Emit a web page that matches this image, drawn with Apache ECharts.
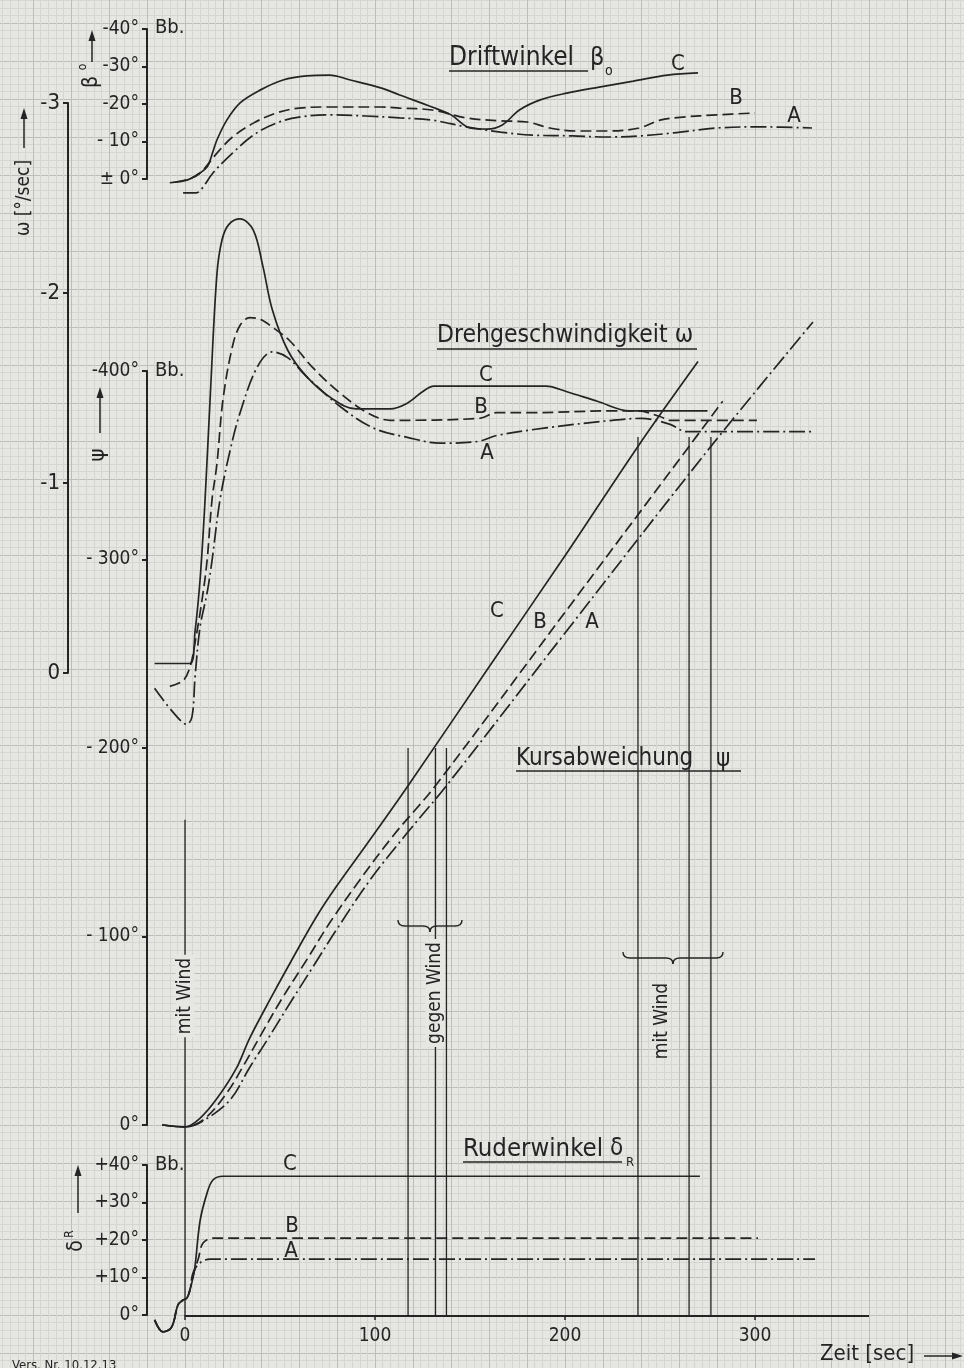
<!DOCTYPE html>
<html>
<head>
<meta charset="utf-8">
<script src="https://cdn.jsdelivr.net/npm/echarts@6.0.0/dist/echarts.min.js"></script>
<style>
html, body { margin: 0; padding: 0; background: #e6e6e3; }
#main { width: 964px; height: 1368px; }
</style>
</head>
<body>
<div id="main"></div>
<script>
// ---- data (time in sec) ----
// Driftwinkel beta_0 [deg]
const betaC = [[-8,1],[1,0.3],[6,-1],[11.6,-3.2],[14.5,-7],[16.8,-10.4],[22,-15.7],[29,-20.3],[39.5,-23.7],[51.6,-26.4],[64,-27.5],[76,-27.7],[87,-26.4],[103,-24.3],[113,-22.4],[130,-19.2],[140,-17.1],[150,-13.6],[159,-13.3],[167,-14.4],[176,-18.4],[187,-21.1],[201,-22.9],[218,-24.5],[236,-26.1],[254,-27.7],[270,-28.3]];
const betaB = [[-5,0.8],[2,0],[8,-1.6],[16.8,-6.9],[25,-11.2],[36,-14.9],[48,-17.6],[60,-18.9],[76,-19.2],[103,-19.2],[113,-18.9],[130,-18.4],[148,-16.3],[166,-15.5],[180,-15.2],[192,-13.6],[206,-12.8],[222,-12.8],[239,-13.6],[250,-15.7],[262,-16.5],[280,-17.1],[300,-17.6]];
const betaA = [[-1,3.7],[6,3.7],[9,2.5],[14.7,-1.6],[25,-6.9],[36,-11.7],[48,-14.9],[60,-16.5],[76,-17.1],[95,-16.8],[113,-16.3],[130,-15.7],[148,-13.9],[166,-12.5],[183,-11.7],[204,-11.5],[222,-11.2],[240,-11.5],[257,-12.3],[280,-13.6],[303,-13.9],[330,-13.6]];

// Drehgeschwindigkeit omega [deg/sec]
const omegaC = [[-16,-0.05],[2.6,-0.05],[5.3,-0.22],[8,-0.5],[10.5,-0.9],[13.5,-1.5],[16.8,-2.1],[19.5,-2.28],[23,-2.36],[29,-2.39],[36,-2.33],[41,-2.14],[46,-1.91],[54,-1.7],[64,-1.56],[78,-1.44],[90,-1.39],[108,-1.39],[117,-1.42],[125,-1.48],[131,-1.51],[190,-1.51],[201,-1.48],[217,-1.43],[234,-1.38],[275,-1.38]];
const omegaB = [[-8,0.07],[-1,0.04],[2.6,-0.03],[5.3,-0.16],[8.9,-0.38],[11.6,-0.59],[14.2,-0.91],[16.8,-1.1],[20,-1.44],[25,-1.72],[29,-1.83],[34,-1.87],[40,-1.86],[46,-1.82],[55,-1.75],[67,-1.61],[82,-1.47],[96,-1.37],[108,-1.33],[155,-1.34],[164,-1.37],[182,-1.37],[225,-1.38],[238,-1.38],[250,-1.35],[255,-1.33],[301,-1.33]];
const omegaA = [[-16,0.08],[-6,0.21],[1,0.27],[3.7,0.23],[5.3,0.02],[7.9,-0.24],[11.6,-0.42],[14.2,-0.59],[18.4,-0.91],[23.7,-1.17],[29,-1.37],[38,-1.61],[46,-1.69],[54,-1.66],[64,-1.56],[82,-1.4],[99,-1.29],[117,-1.24],[134,-1.21],[138,-1.21],[155,-1.22],[164,-1.25],[190,-1.29],[225,-1.33],[240,-1.34],[255,-1.31],[264,-1.27],[271,-1.27],[330,-1.27]];

// Kursabweichung psi [deg]
const psiC = [[-12,0],[0,1],[8,-3.7],[16.8,-14],[27,-30],[34,-46],[45,-67],[57,-89],[69.5,-111],[80,-127],[95,-148],[117.4,-180],[160,-243],[200,-302],[238.4,-360],[270,-405]];
const psiB = [[-12,0],[0,1],[10,-3],[22,-17],[30.5,-31],[39.5,-47],[51.6,-68],[64,-87.5],[76,-107],[92,-130],[110,-154],[131.8,-180],[200,-272],[265.3,-360],[283,-384]];
const psiA = [[-12,0],[0,1],[10,-2.5],[23.7,-13.3],[34.2,-30.8],[43.2,-45],[55.3,-64.7],[67.4,-84],[80,-104],[97.4,-130],[117,-155],[137.6,-180],[200,-261],[276.8,-360],[330.5,-426]];

// Ruderwinkel delta_R [deg]
const deltaC = [[-16,-1.3],[-11.6,-4.5],[-7,-3.2],[-3.7,2.7],[-1,4],[1,4.5],[2.6,6.7],[5,12],[7.9,25],[11.6,32.5],[14.7,36],[20,37],[271,37]];
const deltaB = [[-16,-1.3],[-11.6,-4.5],[-7,-3.2],[-3.7,2.7],[-1,4],[1,4.5],[2.6,6.7],[4.5,11],[7,15],[9.5,19.2],[14.7,20.5],[301.6,20.5]];
const deltaA = [[-16,-1.3],[-11.6,-4.5],[-7,-3.2],[-3.7,2.7],[-1,4],[1,4.5],[2.6,6.7],[4.2,11.2],[7.9,13.9],[13.2,14.9],[331.6,14.9]];

// wind marks: times where psi passes 0/180/360 deg, and psi level where each line starts
const markTimes = [0, 117.4, 131.8, 137.6, 238.4, 265.3, 276.8];
const markTopPsi = [-162, -200, -200, -200, -365, -365, -365];

// tick labels
const timeTicks = [0, 100, 200, 300];
const timeTickLabels = ['0', '100', '200', '300'];
const betaTicks = [-40, -30, -20, -10, 0];
const betaTickLabels = ['-40°', '-30°', '-20°', '- 10°', '± 0°'];
const omegaTicks = [-3, -2, -1, 0];
const omegaTickLabels = ['-3', '-2', '-1', '0'];
const psiTicks = [-400, -300, -200, -100, 0];
const psiTickLabels = ['-400°', '- 300°', '- 200°', '- 100°', '0°'];
const deltaTicks = [0, 10, 20, 30, 40];
const deltaTickLabels = ['0°', '+10°', '+20°', '+30°', '+40°'];

const INK = '#242424';
const PAPER = '#e6e6e3';
const FONT = "'DejaVu Sans Condensed', 'DejaVu Sans', sans-serif";

const chart = echarts.init(document.getElementById('main'));

function pick(vals, labels) {
    return function (v) {
        const i = vals.indexOf(Math.round(v));
        return i < 0 ? '' : labels[i];
    };
}

// the four panels share one time scale: -20..360 s over x 147..869 (t=0 at x=185)
const panel = (top, height) => ({ left: 147, width: 722, top: top, height: height, outerBoundsMode: 'none' });

function yAx(grid, min, max, interval, inverse, offset, ticks, labels, fs) {
    return {
        gridIndex: grid, type: 'value', min: min, max: max, interval: interval,
        inverse: inverse, position: 'left', offset: offset,
        axisLine: { show: true, onZero: false, lineStyle: { color: INK, width: 2 } },
        axisTick: { show: true, length: 5, lineStyle: { color: INK, width: 2 } },
        axisLabel: { formatter: pick(ticks, labels), color: INK, fontSize: fs, fontFamily: FONT, margin: 8 },
        splitLine: { show: false }
    };
}

function hiddenX(grid) {
    return { gridIndex: grid, type: 'value', min: -20, max: 360, show: false };
}

const dashB = [11, 5];
const dashA = [16, 4, 2, 4];

function curve(name, data, idx, dash) {
    return {
        name: name, type: 'line', xAxisIndex: idx, yAxisIndex: idx, data: data,
        symbol: 'none', smooth: 0.35, clip: false, silent: true,
        lineStyle: { color: INK, width: 1.7, type: dash }
    };
}

const paperLines = {
    axisLine: { show: false }, axisTick: { show: false }, axisLabel: { show: false },
    splitLine: { show: true, lineStyle: { color: '#bdbdb9', width: 1 } },
    minorTick: { show: false, splitNumber: 5 },
    minorSplitLine: { show: true, lineStyle: { color: '#d5d5d1', width: 1 } }
};

const option = {
    backgroundColor: PAPER,
    animation: false,
    textStyle: { fontFamily: FONT },
    grid: [
        { left: -5, top: -15, width: 988, height: 1406, outerBoundsMode: 'none' },   // graph paper, 38 px cells
        panel(29, 150),     // beta
        panel(103, 570),    // omega
        panel(371, 754),    // psi
        panel(1165, 150)    // delta
    ],
    xAxis: [
        Object.assign({ gridIndex: 0, type: 'value', min: 0, max: 26, interval: 1 }, paperLines),
        hiddenX(1), hiddenX(2), hiddenX(3),
        {
            gridIndex: 4, type: 'value', min: -20, max: 360, position: 'bottom',
            axisLine: { show: false },
            axisTick: { show: true, length: 5, customValues: timeTicks, lineStyle: { color: INK, width: 1.5 } },
            axisLabel: { customValues: timeTicks, formatter: pick(timeTicks, timeTickLabels), color: INK, fontSize: 19, fontFamily: FONT, margin: 12 },
            splitLine: { show: false }
        }
    ],
    yAxis: [
        Object.assign({ gridIndex: 0, type: 'value', min: 0, max: 37, interval: 1, inverse: true }, paperLines),
        yAx(1, -40, 0, 10, true, 0, betaTicks, betaTickLabels, 19),
        yAx(2, -3, 0, 1, true, 79, omegaTicks, omegaTickLabels, 22),
        yAx(3, -400, 0, 100, true, 0, psiTicks, psiTickLabels, 19),
        yAx(4, 0, 40, 10, false, 0, deltaTicks, deltaTickLabels, 19)
    ],
    series: [
        curve('beta C', betaC, 1, 'solid'),
        curve('beta B', betaB, 1, dashB),
        curve('beta A', betaA, 1, dashA),
        curve('omega C', omegaC, 2, 'solid'),
        curve('omega B', omegaB, 2, dashB),
        curve('omega A', omegaA, 2, dashA),
        curve('psi C', psiC, 3, 'solid'),
        curve('psi B', psiB, 3, dashB),
        curve('psi A', psiA, 3, dashA),
        curve('delta C', deltaC, 4, 'solid'),
        curve('delta B', deltaB, 4, dashB),
        curve('delta A', deltaA, 4, dashA)
    ]
};

chart.setOption(option);

// ---- annotations ----
function txt(s, x, y, size, align, rot, bg) {
    const st = {
        text: s, fill: INK, fontSize: size, fontFamily: FONT,
        align: align || 'center', textAlign: align || 'center',
        verticalAlign: 'middle', textVerticalAlign: 'middle'
    };
    if (bg) { st.backgroundColor = PAPER; st.padding = [0, 3]; }
    return { type: 'text', x: x, y: y, rotation: rot || 0, silent: true, z: 10, style: st };
}
function seg(x1, y1, x2, y2, w) {
    return { type: 'line', silent: true, z: 5, shape: { x1: x1, y1: y1, x2: x2, y2: y2 }, style: { stroke: INK, lineWidth: w || 1.3 } };
}
function quad(x1, y1, cx, cy, x2, y2) {
    return { type: 'bezierCurve', silent: true, z: 5, shape: { x1: x1, y1: y1, cpx1: cx, cpy1: cy, x2: x2, y2: y2 }, style: { stroke: INK, fill: null, lineWidth: 1.4 } };
}
function arrowUp(x, yTop, yBottom) {
    return [
        seg(x, yBottom, x, yTop + 8, 1.5),
        { type: 'polygon', silent: true, z: 5, shape: { points: [[x, yTop], [x - 3.5, yTop + 11], [x + 3.5, yTop + 11]] }, style: { fill: INK } }
    ];
}
function underBrace(x1, x2, y) {
    const xm = (x1 + x2) / 2;
    return [
        quad(x1, y - 6, x1, y, x1 + 7, y),
        seg(x1 + 7, y, xm - 7, y, 1.4),
        quad(xm - 7, y, xm, y, xm, y + 6),
        quad(xm, y + 6, xm, y, xm + 7, y),
        seg(xm + 7, y, x2 - 7, y, 1.4),
        quad(x2 - 7, y, x2, y, x2, y - 6)
    ];
}

const R90 = Math.PI / 2;
const els = [];

// time axis line from t=0 to the end of the scale, and the vertical wind-mark lines
const yBase = chart.convertToPixel({ yAxisIndex: 4 }, 0) + 1;
const xOf = t => chart.convertToPixel({ xAxisIndex: 4 }, t);
els.push(seg(xOf(0), yBase, xOf(360), yBase, 2));
markTimes.forEach((t, i) => {
    const yTop = chart.convertToPixel({ yAxisIndex: 3 }, markTopPsi[i]);
    els.push(seg(xOf(t), yTop, xOf(t), yBase, 1.3));
});

// panel titles
els.push(txt('Driftwinkel', 449, 58, 26, 'left'), seg(449, 71, 588, 71, 1.6));
els.push(txt('β', 590, 58, 25, 'left'), txt('o', 605, 71, 14, 'left'));
els.push(txt('Drehgeschwindigkeit ω', 437, 336, 24.5, 'left'), seg(437, 349, 697, 349, 1.6));
els.push(txt('Kursabweichung', 516, 759, 24, 'left'), txt('ψ', 716, 760, 24, 'left'), seg(516, 771, 741, 771, 1.6));
els.push(txt('Ruderwinkel', 463, 1149, 25.5, 'left'), txt('δ', 610, 1149, 24, 'left'), txt('R', 626, 1163, 13, 'left'), seg(463, 1162, 622, 1162, 1.6));

// curve letters
[['C', 678, 64], ['B', 736, 98], ['A', 794, 116],
 ['C', 486, 375], ['B', 481, 407], ['A', 487, 453],
 ['C', 497, 611], ['B', 540, 622], ['A', 592, 622],
 ['C', 290, 1164], ['B', 292, 1226], ['A', 291, 1251]].forEach(c => els.push(txt(c[0], c[1], c[2], 22)));

// "Bb." next to the top ticks
els.push(txt('Bb.', 155, 28, 20, 'left'), txt('Bb.', 155, 371, 20, 'left'), txt('Bb.', 155, 1165, 20, 'left'));

// axis names with arrows
els.push(txt('ω [°/sec]', 24, 198, 19, 'center', R90));
els.push(...arrowUp(24, 108, 148));
els.push(txt('β', 92, 82, 21, 'center', R90), txt('o', 83, 67, 12, 'center', R90));
els.push(...arrowUp(92, 30, 62));
els.push(txt('ψ', 98, 455, 22, 'center', R90));
els.push(...arrowUp(100, 387, 433));
els.push(txt('δ', 77, 1246, 21, 'center', R90), txt('R', 70, 1234, 12, 'center', R90));
els.push(...arrowUp(78, 1165, 1213));

// wind notes
els.push(txt('mit Wind', 185, 996, 19, 'center', R90, true));
els.push(txt('gegen Wind', 435, 993, 19, 'center', R90, true));
els.push(txt('mit Wind', 662, 1021, 19, 'center', R90));
els.push(...underBrace(398, 462, 926), ...underBrace(623, 723, 958));

// time axis name
els.push(txt('Zeit [sec]', 820, 1354, 22, 'left'));
els.push(seg(924, 1356, 955, 1356, 1.5),
    { type: 'polygon', silent: true, z: 5, shape: { points: [[963, 1356], [952, 1352.5], [952, 1359.5]] }, style: { fill: INK } });
els.push(txt('Vers. Nr. 10.12.13', 12, 1366, 13, 'left'));

chart.setOption({ graphic: { elements: els } });
</script>
</body>
</html>
